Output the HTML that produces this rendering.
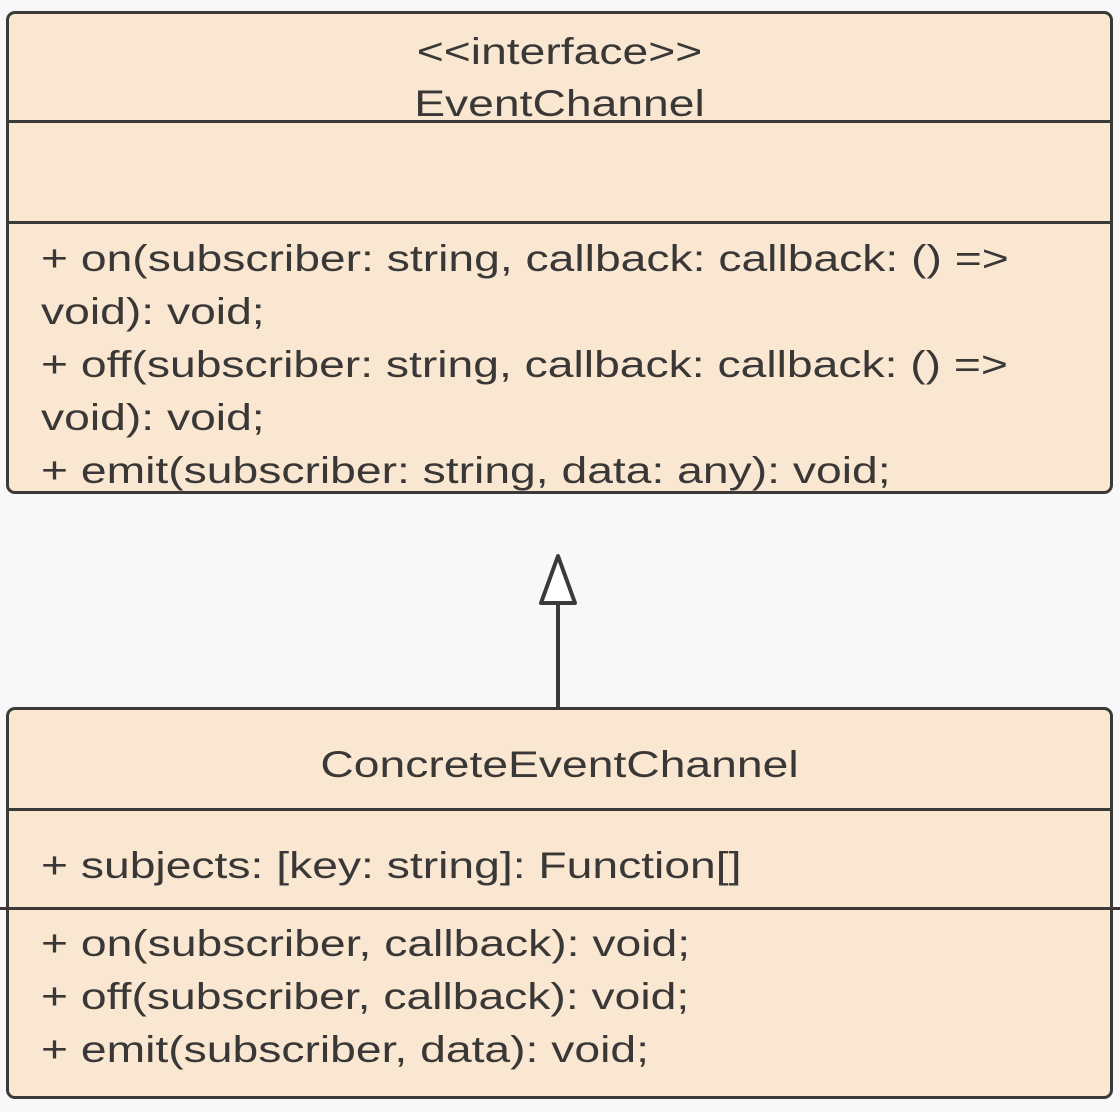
<!DOCTYPE html>
<html><head><style>
html,body{margin:0;padding:0;background:#f8f8f8;}
body{width:1120px;height:1112px;position:relative;overflow:hidden;font-family:"Liberation Sans",Arial,sans-serif;color:#3a3836;}
.box{position:absolute;background:#fae7d2;border:3px solid #3c3a38;border-radius:9px;box-sizing:border-box;overflow:hidden;}
.hl{position:absolute;height:3px;background:#3c3a38;}
.t{position:absolute;font-size:37px;white-space:nowrap;line-height:53px;transform:scaleX(1.25);transform-origin:0 0;}
.c{left:0;right:0;text-align:center;transform-origin:50% 0;}
</style></head><body>
<div class="box" style="left:6px;top:11px;width:1107px;height:483px;">
  <div class="t c" style="top:12px;line-height:52px;">&lt;&lt;interface&gt;&gt;<br>EventChannel</div>
  <div class="hl" style="left:0;right:0;top:106px;"></div>
  <div class="hl" style="left:0;right:0;top:207px;"></div>
  <div class="t" style="left:32px;top:218px;">+ on(subscriber: string, callback: callback: () =&gt;<br>void): void;<br>+ off(subscriber: string, callback: callback: () =&gt;<br>void): void;<br>+ emit(subscriber: string, data: any): void;</div>
</div>
<svg style="position:absolute;left:0;top:0" width="1120" height="1112">
  <line x1="558" y1="603" x2="558" y2="709" stroke="#3c3a38" stroke-width="4"/>
  <polygon points="558,556 541,603 575,603" fill="#fff" stroke="#3c3a38" stroke-width="4" stroke-linejoin="round"/>
</svg>
<div class="box" style="left:6px;top:707px;width:1107px;height:392px;">
  <div class="t c" style="top:28px;">ConcreteEventChannel</div>
  <div class="hl" style="left:0;right:0;top:98px;"></div>
  <div class="t" style="left:32px;top:129px;">+ subjects: [key: string]: Function[]</div>
  <div class="t" style="left:32px;top:207px;">+ on(subscriber, callback): void;<br>+ off(subscriber, callback): void;<br>+ emit(subscriber, data): void;</div>
</div>
<div class="hl" style="left:0;width:1120px;top:907px;"></div>
</body></html>
